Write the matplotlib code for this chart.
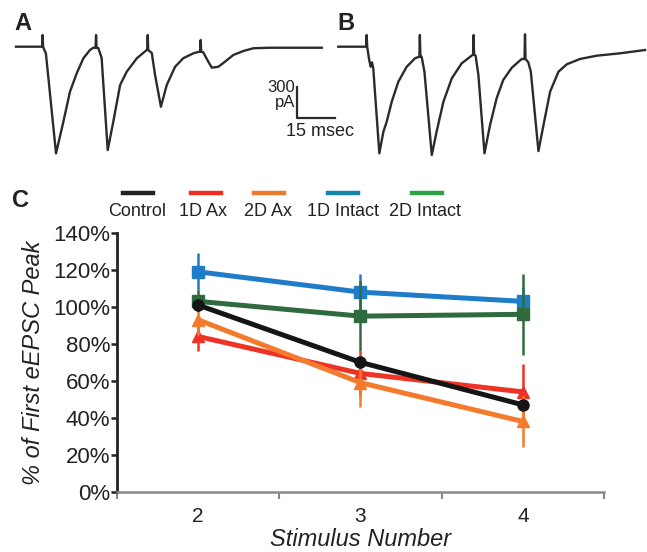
import matplotlib
matplotlib.use("Agg")
import matplotlib.pyplot as plt
from matplotlib.lines import Line2D
import numpy as np

plt.rcParams['font.family'] = ['Liberation Sans', 'DejaVu Sans']

# ---------------- data ----------------
stimulus = [2, 3, 4]
series_names = ["Control", "1D Ax", "2D Ax", "1D Intact", "2D Intact"]
control = [101, 70, 47]
control_err = [3, 3, 3]
ax1d = [84, 64, 54]
ax1d_err = [8, 12, 15]
ax2d = [93, 59, 38]
ax2d_err = [8, 13, 14]
intact1d = [119, 108, 103]
intact1d_err = [10, 10, 8]
intact2d = [103, 95, 96]
intact2d_err = [6, 19, 22]
y_ticks = [0, 20, 40, 60, 80, 100, 120, 140]
y_tick_labels = ["0%", "20%", "40%", "60%", "80%", "100%", "120%", "140%"]

# Trace A (ms, pA relative to baseline)
trace_a_t = [0, 10.1, 10.3, 10.5, 10.7, 11.2, 11.8, 15.8, 18.7, 21.3, 24.0, 26.6, 29.2, 30.5,
             31.4, 31.6, 31.8, 32.5, 33.8, 36.2, 38.4, 41.1, 43.7, 47.7, 51.6, 51.8, 52.0, 52.2,
             53.6, 54.9, 57.2, 59.5, 62.8, 66.0, 70.0, 72.4, 72.7, 72.9, 73.1, 73.9, 75.9, 77.3,
             79.9, 82.5, 85.8, 89.7, 93.7, 100.3, 120.7]
trace_a_i = [0, 0, 0, 113, 0, -32, -64, -1032, -726, -436, -255, -112, -32, -10,
             -10, 113, -10, -13, -109, -1000, -726, -371, -242, -112, -32, -32, 113, -32,
             -61, -274, -581, -371, -194, -112, -64, -48, -48, 65, -48, -54, -145, -203,
             -194, -145, -80, -42, -15, -10, -10]
# Trace B (ms, pA relative to baseline)
trace_b_t = [0, 10.9, 11.0, 11.2, 11.4, 12.2, 12.8, 13.3, 13.8, 16.2, 17.8, 19.1, 21.1, 23.7,
             27.0, 30.3, 32.0, 32.2, 32.4, 32.9, 34.0, 36.9, 38.8, 41.5, 44.8, 48.7, 53.3,
             53.4, 53.6, 54.2, 55.3, 57.7, 59.9, 62.5, 65.1, 68.5, 72.4, 73.5, 73.7, 73.9,
             75.0, 76.0, 79.0, 81.0, 83.6, 86.9, 90.2, 95.4, 102.0, 111.2, 121.1]
trace_b_i = [0, 0, 0, 113, 0, -129, -194, -151, -209, -1032, -823, -726, -532, -339,
             -194, -112, -97, 113, -97, -97, -242, -1048, -823, -532, -306, -161, -74,
             113, -74, -87, -274, -1032, -758, -499, -322, -203, -119, -119, 120, -119,
             -151, -242, -1010, -758, -436, -242, -170, -119, -87, -64, -32]

scale_ms = 15
scale_pa = 300

# ---------------- figure ----------------
W, H = 647, 552
fig = plt.figure(figsize=(W / 100, H / 100), dpi=100)

def fig_rect(x0, y0, x1, y1):
    return [x0 / W, 1 - y1 / H, (x1 - x0) / W, (y1 - y0) / H]

trace_color = "#2b2b2b"
px_ms = 38 / 15.0
px_pa = 31 / 300.0

# trace A axes
x0a = 16
axA = fig.add_axes(fig_rect(10, 25, 330, 165))
axA.plot(trace_a_t, trace_a_i, color=trace_color, lw=1.7, solid_joinstyle='round')
axA.set_xlim((10 - x0a) / px_ms, (330 - x0a) / px_ms)
axA.set_ylim(-(165 - 46.7) / px_pa, (46.7 - 25) / px_pa)
axA.axis('off')
# scale bar
sb_t = (297 - x0a) / px_ms
sb_i = -(117.7 - 46.7) / px_pa
axA.plot([sb_t, sb_t, sb_t + scale_ms], [sb_i + scale_pa, sb_i, sb_i],
         color=trace_color, lw=1.6, clip_on=False)
fig.text(295 / W, 1 - 88 / H, "300", ha='right', va='center', fontsize=12, color="#222")
fig.text(295 / W, 1 - 102.5 / H, "pA", ha='right', va='center', fontsize=12, color="#222")
fig.text(320 / W, 1 - 131 / H, "15 msec", ha='center', va='center', fontsize=13, color="#222")

# trace B axes
x0b = 338.3
axB = fig.add_axes(fig_rect(335, 25, 647, 165))
axB.plot(trace_b_t, trace_b_i, color=trace_color, lw=1.7, solid_joinstyle='round')
axB.set_xlim((335 - x0b) / px_ms, (647 - x0b) / px_ms)
axB.set_ylim(-(165 - 46.7) / px_pa, (46.7 - 25) / px_pa)
axB.axis('off')

# panel letters
fig.text(14 / W, 1 - 24 / H, "A", fontsize=17, fontweight='bold', ha='left', va='center', color="#222")
fig.text(337 / W, 1 - 24 / H, "B", fontsize=17, fontweight='bold', ha='left', va='center', color="#222")
fig.text(12 / W, 1 - 200 / H, "C", fontsize=17, fontweight='bold', ha='left', va='center', color="#222")

# main axes
ax = fig.add_axes(fig_rect(117, 233, 604, 491.7))
plot_colors = ["#151515", "#ee3326", "#f47b2c", "#1f7cc8", "#2f6b3e"]
markers = ["o", "^", "^", "s", "s"]
values = [control, ax1d, ax2d, intact1d, intact2d]
errors = [control_err, ax1d_err, ax2d_err, intact1d_err, intact2d_err]
zorders = [6, 4, 5, 3, 4]
for v, e, c, m, z in zip(values, errors, plot_colors, markers, zorders):
    ax.errorbar(stimulus, v, yerr=e, color=c, marker=m, markersize=8, lw=3.6,
                elinewidth=1.8, capsize=0, zorder=z)

ax.set_xlim(1.5, 4.5)
ax.set_ylim(0, 140)
ax.set_xticks(stimulus)
ax.set_xticklabels([str(s) for s in stimulus], fontsize=15)
ax.set_xticks([1.5, 2.5, 3.5, 4.5], minor=True)
ax.tick_params(axis='x', which='major', length=0, pad=11, colors="#222")
ax.tick_params(axis='x', which='minor', length=5, width=1.5, color="#888")
ax.set_yticks(y_ticks)
ax.set_yticklabels(y_tick_labels, fontsize=16)
ax.tick_params(axis='y', length=4, width=1.8, pad=1, colors="#222")
for s in ['top', 'right']:
    ax.spines[s].set_visible(False)
ax.spines['left'].set_linewidth(2)
ax.spines['left'].set_color("#222")
ax.spines['bottom'].set_linewidth(1.8)
ax.spines['bottom'].set_color("#8a8a8a")
ax.set_xlabel("Stimulus Number", fontsize=17, style='italic', color="#222")
ax.set_ylabel("% of First eEPSC Peak", fontsize=17, style='italic', color="#222")
ax.yaxis.set_label_coords((45 - 117) / (604 - 117), 0.5)
ax.xaxis.set_label_coords(0.5, -(528 - 491.7) / (491.7 - 233))

# legend (manual, label under line sample)
legend_colors = ["#222222", "#ec2f25", "#f07a2c", "#1585a8", "#2ea34a"]
legend_line_x = [(123, 153), (191, 221), (254, 284), (328, 358), (412, 442)]
legend_text_x = [137, 203, 268, 343, 425]
for name, c, (lx0, lx1), tx in zip(series_names, legend_colors, legend_line_x, legend_text_x):
    fig.add_artist(Line2D([lx0 / W, lx1 / W], [1 - 192.7 / H, 1 - 192.7 / H],
                          color=c, lw=3.2, transform=fig.transFigure))
    fig.text(tx / W, 1 - 211.5 / H, name, ha='center', va='center', fontsize=13, color="#222")

fig.savefig("out.png", dpi=100)
